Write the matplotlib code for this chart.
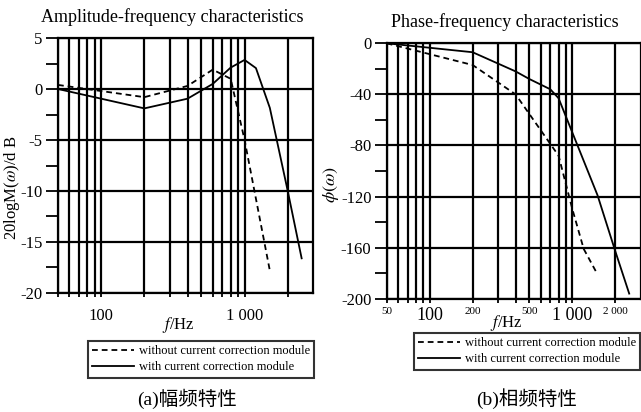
import matplotlib
matplotlib.use("Agg")
import matplotlib.pyplot as plt
import numpy as np
from matplotlib.lines import Line2D

plt.rcParams['font.family'] = ['Liberation Serif', 'Noto Sans CJK SC']
plt.rcParams['mathtext.fontset'] = 'stix'

# ---- data ----
amp_freq_without = [50, 200, 400, 600, 800, 1000, 1500]
amp_without = [0.4, -0.8, 0.3, 1.9, 1.0, -5.0, -17.8]
amp_freq_with = [50, 200, 400, 600, 800, 1000, 1200, 1500, 2000, 2500]
amp_with = [0.0, -1.9, -0.95, 0.5, 2.1, 2.85, 2.05, -1.85, -10.0, -16.6]

ph_freq_without = [50, 200, 400, 800, 1000, 1200, 1500]
ph_without = [0, -17, -40, -88, -130, -161, -181]
ph_freq_with = [50, 200, 400, 500, 700, 800, 1000, 1500, 2000, 2500]
ph_with = [0, -7, -22, -28, -36, -43, -70, -119, -163, -196]

grid_freqs = [50, 60, 70, 80, 90, 100, 200, 300, 400, 500, 600, 700, 800, 900, 1000, 2000]
left_xlabels = {100: '100', 1000: '1 000'}
right_xlabels_big = {100: '100', 1000: '1 000'}
right_xlabels_small = {50: '50', 200: '200', 500: '500', 2000: '2 000'}

legend_labels = ['without current correction module', 'with current correction module']

W, H = 641, 412
fig = plt.figure(figsize=(W / 100, H / 100), dpi=100)

def style_axes(ax, ylim, ymajor, yminor):
    ax.set_xscale('log')
    ax.set_xlim(50, 3000)
    ax.set_ylim(*ylim)
    for f in grid_freqs:
        ax.axvline(f, color='black', lw=1.6, zorder=1)
    for y in ymajor:
        ax.axhline(y, color='black', lw=1.6, zorder=1)
    ax.set_yticks(ymajor)
    ax.set_yticks(yminor, minor=True)
    ax.tick_params(axis='y', which='both', direction='out', length=9, width=1.3, labelsize=12, pad=2)
    ax.set_xticks(grid_freqs)
    ax.set_xticks([], minor=True)
    ax.tick_params(axis='x', which='major', direction='out', length=3, width=1.3)
    for s in ax.spines.values():
        s.set_linewidth(1.6)

dash = (0, (3.2, 2.2))

# ---- left: amplitude ----
ax1 = fig.add_axes([58 / W, 1 - 293 / H, (313 - 58) / W, (293 - 38) / H])
style_axes(ax1, (-20, 5), [5, 0, -5, -10, -15, -20], np.arange(-17.5, 5, 5))
ax1.set_yticklabels(['5', '0', '-5', '-10', '-15', '-20'])
ax1.set_xticklabels([left_xlabels.get(f, '') for f in grid_freqs], fontsize=12)
ax1.tick_params(axis='x', pad=8)
ax1.plot(amp_freq_without, amp_without, color='black', lw=1.3, ls=dash, zorder=3)
ax1.plot(amp_freq_with, amp_with, color='black', lw=1.3, zorder=3)
ax1.set_xlabel('$f$/Hz', fontsize=12)
ax1.xaxis.set_label_coords((178 - 58) / (313 - 58), -(325 - 293) / (293 - 38), transform=ax1.transAxes)
ax1.xaxis.label.set_verticalalignment('center')
ax1.set_ylabel('20logM($\\omega$)/d B', fontsize=12)
ax1.yaxis.set_label_coords(-(58 - 12) / (313 - 58), (293 - 188) / (293 - 38), transform=ax1.transAxes)
ax1.yaxis.label.set_verticalalignment('center')
fig.text(172 / W, 1 - 17 / H, 'Amplitude-frequency characteristics', ha='center', va='center', fontsize=13)

# ---- right: phase ----
r_x0, r_x1, r_top, r_bot = 386.7, 640.5, 43.3, 298.7
ax2 = fig.add_axes([r_x0 / W, 1 - r_bot / H, (r_x1 - r_x0) / W, (r_bot - r_top) / H])
style_axes(ax2, (-200, 0), [0, -40, -80, -120, -160, -200], np.arange(-180, 0, 40))
ax2.set_yticklabels(['0', '-40', '-80', '-120', '-160', '-200'])
labs = [right_xlabels_big.get(f, right_xlabels_small.get(f, '')) for f in grid_freqs]
ax2.set_xticklabels(labs)
for f, t in zip(grid_freqs, ax2.get_xticklabels()):
    t.set_fontsize(8 if f in right_xlabels_small else 13)
    t.set_verticalalignment('top')
ax2.tick_params(axis='x', pad=3)
ax2.plot(ph_freq_without, ph_without, color='black', lw=1.3, ls=dash, zorder=3)
ax2.plot(ph_freq_with, ph_with, color='black', lw=1.3, zorder=3)
ax2.set_xlabel('$f$/Hz', fontsize=12)
ax2.xaxis.set_label_coords((506 - r_x0) / (r_x1 - r_x0), -(323 - r_bot) / (r_bot - r_top), transform=ax2.transAxes)
ax2.xaxis.label.set_verticalalignment('center')
ax2.set_ylabel('$\\phi(\\omega)$', fontsize=13)
ax2.yaxis.set_label_coords(-(r_x0 - 331) / (r_x1 - r_x0), (r_bot - 185) / (r_bot - r_top), transform=ax2.transAxes)
ax2.yaxis.label.set_verticalalignment('center')
fig.text(505 / W, 1 - 22 / H, 'Phase-frequency characteristics', ha='center', va='center', fontsize=13)

# ---- legends ----
handles = [Line2D([], [], color='black', lw=1.3, ls=dash), Line2D([], [], color='black', lw=1.3)]
for (lx, ly) in [(88, 341), (414, 333)]:
    leg = fig.legend(handles, legend_labels, loc='upper left',
                     bbox_to_anchor=(lx / W, 1 - ly / H), bbox_transform=fig.transFigure,
                     fontsize=9, frameon=True, fancybox=False, handlelength=3.3,
                     handletextpad=0.4, borderpad=0.35, labelspacing=0.3, borderaxespad=0)
    leg.get_frame().set_edgecolor('black')
    leg.get_frame().set_linewidth(1.5)

# ---- captions ----
fig.text(187 / W, 1 - 399 / H, '(a)幅频特性', ha='center', va='center', fontsize=14,
         family=['Liberation Serif', 'Noto Sans CJK SC'])
fig.text(527 / W, 1 - 399 / H, '(b)相频特性', ha='center', va='center', fontsize=14,
         family=['Liberation Serif', 'Noto Sans CJK SC'])

fig.savefig('out.png', dpi=100)
